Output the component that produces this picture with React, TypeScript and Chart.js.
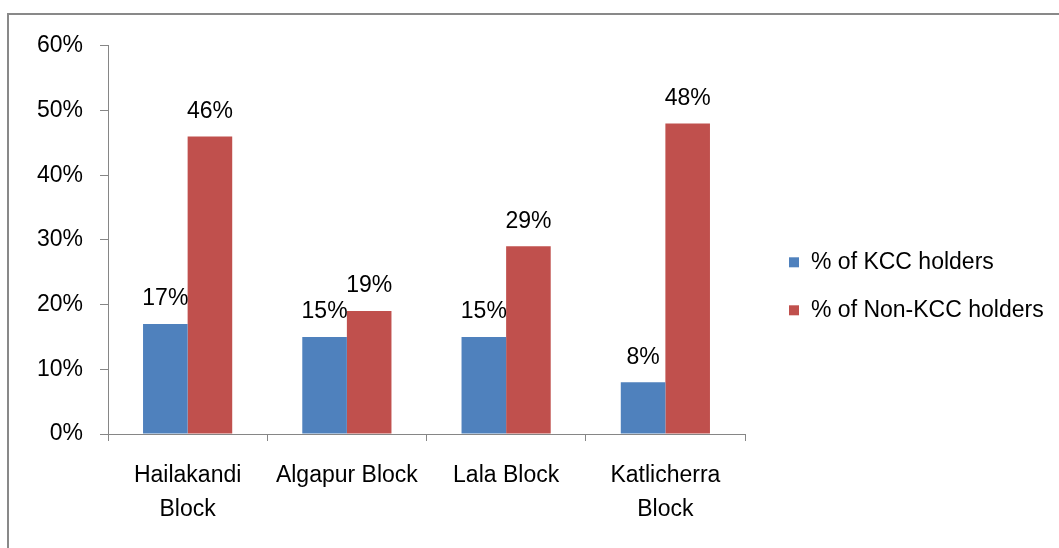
import { useEffect, useRef } from "react";
import { Chart, registerables } from "chart.js";

Chart.register(...registerables);

// Block names (multi-line where the label wraps)
const categories: (string | string[])[] = [
  ["Hailakandi", "Block"],
  "Algapur Block",
  "Lala Block",
  ["Katlicherra", "Block"],
];

// Share of respondents, in percent
const kccHolders = [17, 15, 15, 8];
const nonKccHolders = [46, 19, 29, 48];

const seriesNames = ["% of KCC holders", "% of Non-KCC holders"];
const seriesColors = ["#4F81BD", "#C0504D"];

const yMin = 0;
const yMax = 60;
const yStep = 10;

const FAMILY = "'Liberation Sans', Arial, sans-serif";
const FONT_SIZE = 23;
const AXIS_GRAY = "#868686";

// Percent value written above each bar
const valueLabels = {
  id: "valueLabels",
  afterDatasetsDraw(chart: any) {
    const ctx = chart.ctx;
    ctx.save();
    ctx.font = `${FONT_SIZE}px ${FAMILY}`;
    ctx.fillStyle = "#000";
    ctx.textAlign = "center";
    ctx.textBaseline = "middle";
    chart.data.datasets.forEach((ds: any, i: number) => {
      chart.getDatasetMeta(i).data.forEach((bar: any, j: number) => {
        ctx.fillText(`${ds.data[j]}%`, bar.x, bar.y - 25);
      });
    });
    ctx.restore();
  },
};

// Legend drawn to the right of the plot area
const sideLegend = {
  id: "sideLegend",
  afterDraw(chart: any) {
    const { ctx, chartArea } = chart;
    ctx.save();
    ctx.font = `${FONT_SIZE}px ${FAMILY}`;
    ctx.textAlign = "left";
    ctx.textBaseline = "middle";
    const boxX = chartArea.right + 44;
    const textX = chartArea.right + 66;
    chart.data.datasets.forEach((ds: any, i: number) => {
      const y = chartArea.top + 216.5 + i * 48;
      ctx.fillStyle = ds.backgroundColor;
      ctx.fillRect(boxX, y - 5, 10, 10);
      ctx.fillStyle = "#000";
      ctx.fillText(ds.label, textX, y);
    });
    ctx.restore();
  },
};

export default function App() {
  const canvasRef = useRef<HTMLCanvasElement | null>(null);

  useEffect(() => {
    if (!canvasRef.current) return;
    const chart = new Chart(canvasRef.current, {
      type: "bar",
      data: {
        labels: categories,
        datasets: [
          {
            label: seriesNames[0],
            data: kccHolders,
            backgroundColor: seriesColors[0],
            borderWidth: 0,
            categoryPercentage: 0.56,
            barPercentage: 1,
          },
          {
            label: seriesNames[1],
            data: nonKccHolders,
            backgroundColor: seriesColors[1],
            borderWidth: 0,
            categoryPercentage: 0.56,
            barPercentage: 1,
          },
        ],
      },
      options: {
        responsive: false,
        animation: false,
        devicePixelRatio: 1,
        layout: { padding: { left: 0, top: 28, right: 314, bottom: 0 } },
        plugins: {
          legend: { display: false },
          tooltip: { enabled: false },
          title: { display: false },
        },
        scales: {
          x: {
            grid: {
              display: true,
              drawOnChartArea: false,
              drawTicks: true,
              tickLength: 7,
              color: AXIS_GRAY,
              offset: true,
            },
            border: { display: true, color: AXIS_GRAY, width: 1 },
            ticks: {
              color: "#000",
              font: { family: FAMILY, size: FONT_SIZE, lineHeight: 1.48 },
              padding: 18,
              maxRotation: 0,
              autoSkip: false,
            },
            afterFit(scale: any) {
              scale.height = 114;
            },
          },
          y: {
            min: yMin,
            max: yMax,
            grid: {
              display: true,
              drawOnChartArea: false,
              drawTicks: true,
              tickLength: 8,
              color: AXIS_GRAY,
            },
            border: { display: true, color: AXIS_GRAY, width: 1 },
            ticks: {
              stepSize: yStep,
              color: "#000",
              font: { family: FAMILY, size: FONT_SIZE },
              padding: 17,
              callback: (v: any) => `${v}%`,
            },
            afterFit(scale: any) {
              scale.width = 99;
            },
          },
        },
      },
      plugins: [valueLabels, sideLegend],
    });
    return () => chart.destroy();
  }, []);

  return (
    <div
      style={{
        position: "absolute",
        left: 7,
        top: 13,
        width: 1050,
        height: 533,
        borderTop: "2px solid #898989",
        borderLeft: "2px solid #898989",
        background: "#fff",
      }}
    >
      <canvas ref={canvasRef} width={1050} height={533} style={{ display: "block" }} />
    </div>
  );
}
